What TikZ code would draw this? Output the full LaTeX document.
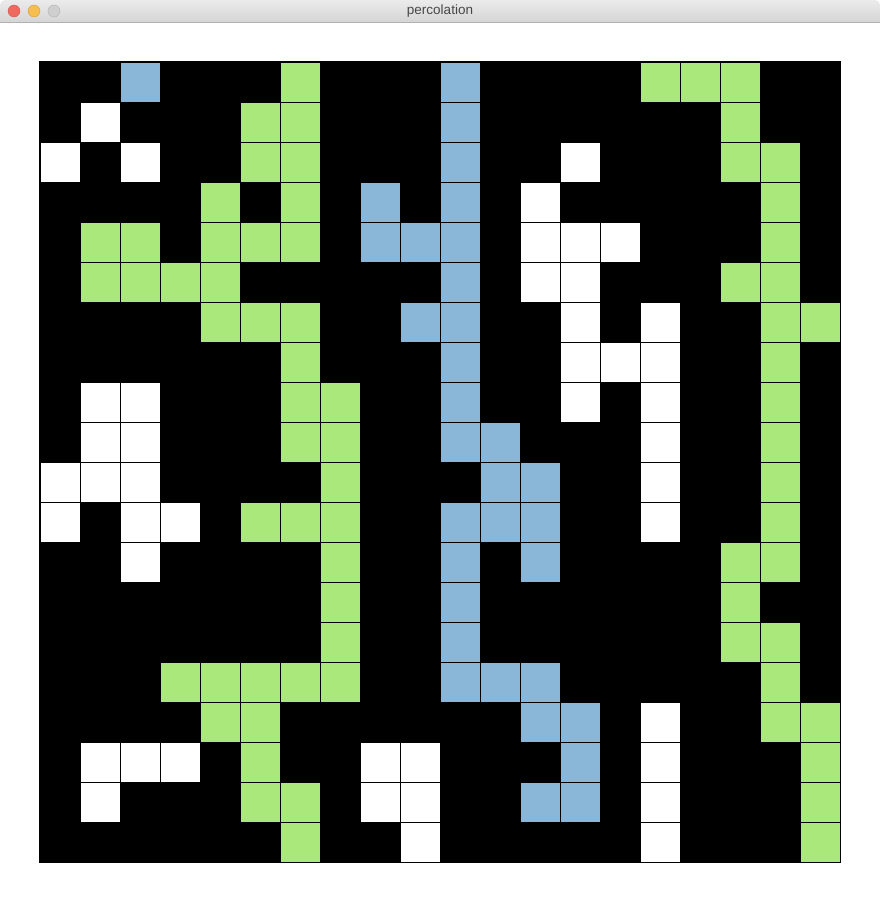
\documentclass[tikz,border=0pt]{standalone}
\usepackage{fontspec}
\setmainfont{Liberation Sans}
\usepackage{xcolor}
\usepackage{tikz}
\usetikzlibrary{calc}

\definecolor{fullgreen}{HTML}{ABE87C}
\definecolor{percblue}{HTML}{8AB6D8}
\definecolor{bartop}{HTML}{EBEBEB}
\definecolor{barbottom}{HTML}{D5D5D5}
\definecolor{barline}{HTML}{B1B1B1}
\definecolor{btnred}{HTML}{EE6A5F}
\definecolor{btnyellow}{HTML}{F6BE4F}
\definecolor{btngray}{HTML}{CFCFCF}

\begin{document}
\begin{tikzpicture}[x=1pt, y=-1pt,
    site/.style={draw=black, line width=0.8pt},
    opensite/.style={site, fill=white},
    fullsite/.style={site, fill=fullgreen},
    percsite/.style={site, fill=percblue}]

    % =================================================================
    % 1. CUA SO VA THANH TIEU DE
    % =================================================================
    \fill[white] (0,0) rectangle (880,902);
    \useasboundingbox (0,0) rectangle (880,902);

    \shade[top color=bartop, bottom color=barbottom]
        (0,22) [rounded corners=5pt]-- (0,0) -- (880,0) [sharp corners]-- (880,22) -- cycle;
    \draw[barline, line width=0.8pt] (0,22) -- (880,22);

    % Ba nut mau
    \filldraw[fill=btnred, draw=btnred!85!black, line width=0.4pt] (14,11) circle (6);
    \filldraw[fill=btnyellow, draw=btnyellow!85!black, line width=0.4pt] (34,11) circle (6);
    \filldraw[fill=btngray, draw=btngray!85!black, line width=0.4pt] (54,11) circle (6);

    \node[text=black!72, font=\fontsize{13.5}{15}\selectfont] (title) at (440,11) {percolation};

    % =================================================================
    % 2. LUOI 20x20 (NEN DEN = O BI CHAN)
    % =================================================================
    \coordinate (O) at (40,62);
    \fill[black] (39,61) rectangle (841,863);

    % =================================================================
    % 3. O MO (TRANG)
    % =================================================================
    \foreach \r/\cols in {1/{1}, 2/{0,2,13}, 3/{12}, 4/{12,13,14}, 5/{12,13},
        6/{13,15}, 7/{13,14,15}, 8/{1,2,13,15}, 9/{1,2,15}, 10/{0,1,2,15},
        11/{0,2,3,15}, 12/{2}, 16/{15}, 17/{1,2,3,8,9,15}, 18/{1,8,9,15},
        19/{9,15}}
        \foreach \c in \cols
            \draw[opensite] ($(O)+(40*\c,40*\r)$) rectangle ++(40,40);

    % =================================================================
    % 4. O DAY (XANH LA)
    % =================================================================
    \foreach \r/\cols in {0/{6,15,16,17}, 1/{5,6,17}, 2/{5,6,17,18},
        3/{4,6,18}, 4/{1,2,4,5,6,18}, 5/{1,2,3,4,17,18}, 6/{4,5,6,18,19},
        7/{6,18}, 8/{6,7,18}, 9/{6,7,18}, 10/{7,18}, 11/{5,6,7,18},
        12/{7,17,18}, 13/{7,17}, 14/{7,17,18}, 15/{3,4,5,6,7,18},
        16/{4,5,18,19}, 17/{5,19}, 18/{5,6,19}, 19/{6,19}}
        \foreach \c in \cols
            \draw[fullsite] ($(O)+(40*\c,40*\r)$) rectangle ++(40,40);

    % =================================================================
    % 5. DUONG THAM THAU (XANH DUONG)
    % =================================================================
    \foreach \r/\cols in {0/{2,10}, 1/{10}, 2/{10}, 3/{8,10}, 4/{8,9,10},
        5/{10}, 6/{9,10}, 7/{10}, 8/{10}, 9/{10,11}, 10/{11,12},
        11/{10,11,12}, 12/{10,12}, 13/{10}, 14/{10}, 15/{10,11,12},
        16/{12,13}, 17/{13}, 18/{12,13}}
        \foreach \c in \cols
            \draw[percsite] ($(O)+(40*\c,40*\r)$) rectangle ++(40,40);

\end{tikzpicture}
\end{document}
